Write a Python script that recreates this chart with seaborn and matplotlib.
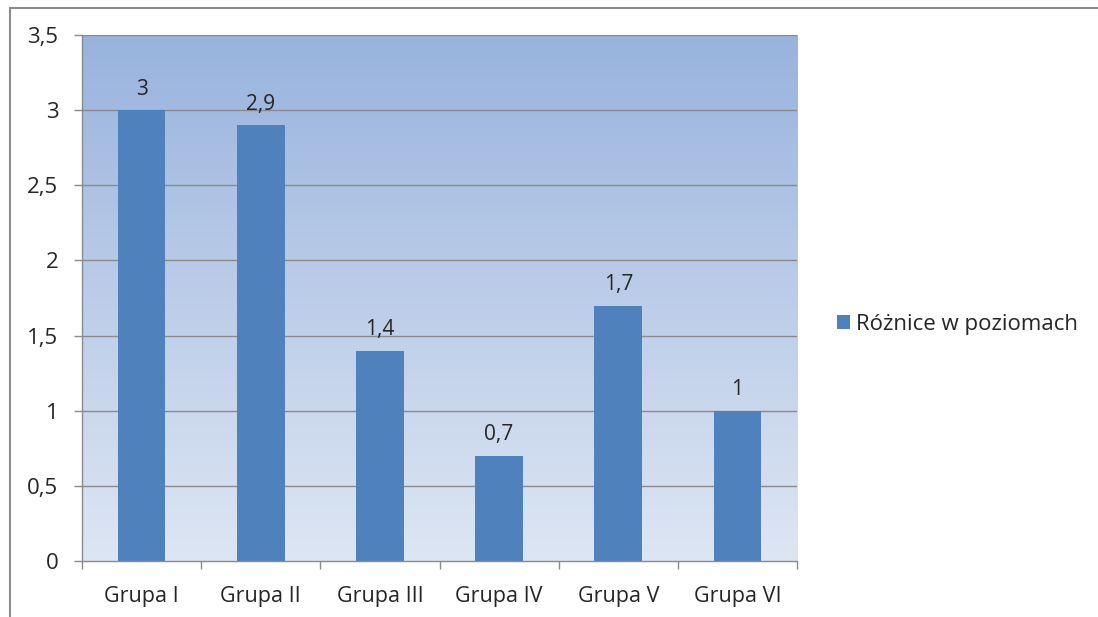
import numpy as np
import pandas as pd
import matplotlib
matplotlib.use("Agg")
import matplotlib.pyplot as plt
import seaborn as sns
from matplotlib.patches import Rectangle
from matplotlib.colors import LinearSegmentedColormap

categories = ["Grupa I", "Grupa II", "Grupa III", "Grupa IV", "Grupa V", "Grupa VI"]
values = [3, 2.9, 1.4, 0.7, 1.7, 1]
series_name = "Różnice w poziomach"
y_ticks = [0, 0.5, 1, 1.5, 2, 2.5, 3, 3.5]

sns.set_theme(style="white")
plt.rcParams["font.family"] = ["Open Sans", "DejaVu Sans"]

df = pd.DataFrame({"grupa": categories, "wartosc": values, "seria": series_name})

fig = plt.figure(figsize=(10.98, 6.17), dpi=100)
ax = fig.add_axes([82 / 1098, 1 - 561 / 617, (797 - 82) / 1098, (561 - 35) / 617])

# vertical gradient background of the plot area
grad = np.linspace(0, 1, 256).reshape(-1, 1)
cmap = LinearSegmentedColormap.from_list("bg", ["#dde6f3", "#bccde9", "#98b3dd"])
ax.imshow(grad, aspect="auto", cmap=cmap, origin="lower",
          extent=(-0.5, 5.5, 0, 3.5), zorder=0)

for t in y_ticks[1:]:
    ax.axhline(t, color="#8a8a8a", lw=1.0, zorder=1)

sns.barplot(data=df, x="grupa", y="wartosc", hue="seria", palette=["#4f81bd"],
            width=0.4, saturation=1, linewidth=0, ax=ax, zorder=2, legend=True)

for i, v in enumerate(values):
    ax.text(i, v + 0.07, f"{v:g}".replace(".", ","), ha="center", va="bottom",
            fontsize=15, color="#262626")

ax.set_xlim(-0.5, 5.5)
ax.set_ylim(0, 3.5)
ax.set_yticks(y_ticks)
ax.set_yticklabels([f"{t:g}".replace(".", ",") for t in y_ticks], fontsize=16, color="#262626")
ax.set_xticks(range(len(categories)))
ax.set_xticklabels(categories, fontsize=15.5, color="#262626")
ax.set_xlabel("")
ax.set_ylabel("")

for s in ["top", "right"]:
    ax.spines[s].set_visible(False)
for s in ["left", "bottom"]:
    ax.spines[s].set_color("#8a8a8a")
    ax.spines[s].set_linewidth(1.0)

ax.tick_params(axis="y", which="major", length=6, color="#8a8a8a", width=1, pad=11, left=True)
ax.tick_params(axis="x", which="major", length=0, pad=18)
# tick marks between categories on the x axis
ax.set_xticks(np.arange(-0.5, 6, 1), minor=True)
ax.tick_params(axis="x", which="minor", length=6, color="#8a8a8a", width=1, bottom=True)

leg = ax.legend(loc="center left", bbox_to_anchor=(1.028, 0.45), frameon=False,
                fontsize=16, handlelength=0.6, handleheight=0.6, handletextpad=0.25)
for t in leg.get_texts():
    t.set_color("#262626")

# outer chart border
fig.patches.append(Rectangle((10 / 1098, -0.1), 1.2, 1 - 8 / 617 + 0.1,
                             transform=fig.transFigure, fill=False,
                             edgecolor="#8c8c8c", lw=1.5))

fig.savefig("out.png", dpi=100)
